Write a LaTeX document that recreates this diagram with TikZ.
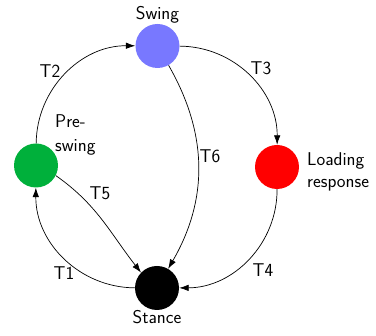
\documentclass[tikz,border=0pt]{standalone}
\usetikzlibrary{arrows.meta}
\definecolor{swingcol}{RGB}{120,120,255}
\definecolor{precol}{RGB}{0,176,59}
\definecolor{loadcol}{RGB}{255,0,0}
\tikzset{
  state/.style={circle, minimum size=44pt, inner sep=0pt, draw=none},
  edge/.style={line width=0.7pt, -{Latex[length=9.5pt,width=6.5pt]}},
  lbl/.style={font=\fontsize{18.5}{22.5}\selectfont\sffamily, inner sep=0pt, anchor=base},
  lblw/.style={font=\fontsize{18.5}{22.5}\selectfont\sffamily, inner sep=0pt, anchor=base west},
}
\begin{document}
\begin{tikzpicture}[x=1pt,y=1pt]
\useasboundingbox (0,0) rectangle (376,336);
\node[state, fill=swingcol] (swing) at (157.5,290) {};
\node[state, fill=precol] (pre) at (36,170.5) {};
\node[state, fill=loadcol] (load) at (277,169) {};
\node[state, fill=black] (stance) at (157,48) {};

\node[lbl] (swingl) at (157.5,316) {Swing};
\node[lbl] (stancel) at (157,12) {Stance};
\node[lblw] (prel1) at (55,208) {Pre-};
\node[lblw] (prel2) at (55,184) {swing};
\node[lblw] (loadl1) at (307,170) {Loading};
\node[lblw] (loadl2) at (307,148) {response};

\draw[edge] (pre) to[bend left=45] (swing);
\draw[edge] (swing) to[bend left=45] (load);
\draw[edge] (load) to[bend left=45] (stance);
\draw[edge] (stance) to[bend left=45] (pre);
\draw[edge] (pre.-27) to[out=-35, in=128] (stance.136);
\draw[edge] (swing) to[bend left=30] (stance);

\node[lbl] (t2) at (50,258) {T2};
\node[lbl] (t3) at (261,261) {T3};
\node[lbl] (t6) at (210,173) {T6};
\node[lbl] (t5) at (100,136) {T5};
\node[lbl] (t1) at (64,56) {T1};
\node[lbl] (t4) at (263,59) {T4};
\end{tikzpicture}
\end{document}
